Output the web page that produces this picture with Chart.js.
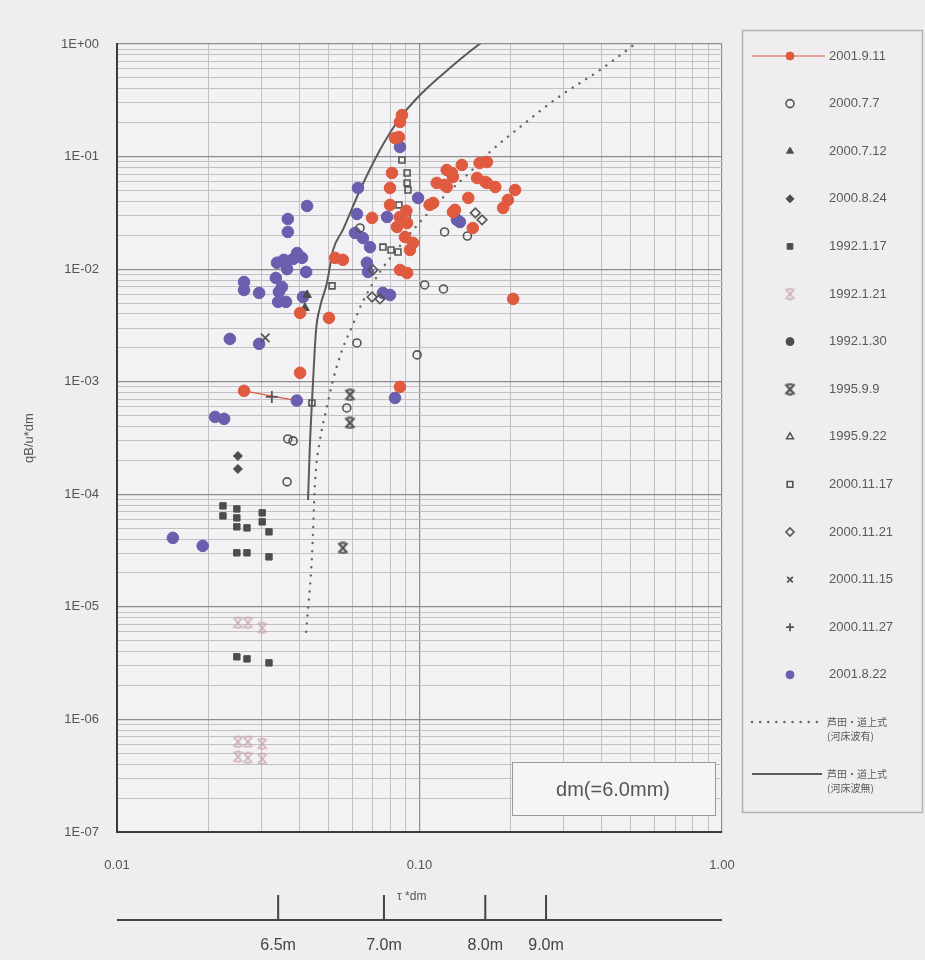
<!DOCTYPE html>
<html>
<head>
<meta charset="utf-8">
<script src="https://cdn.jsdelivr.net/npm/chart.js@4.4.1/dist/chart.umd.min.js"></script>
<style>
  html, body { margin: 0; padding: 0; background: #efedef; }
  #c { display: block; }
</style>
</head>
<body>
<canvas id="c" width="925" height="960"></canvas>
<script>
// Values: [τ*dm, qB/u*dm]
const s2001_9_11 = [[0.0875,0.234],[0.0862,0.203],[0.0830,0.146],[0.0855,0.149],[0.0811,0.0715],[0.0799,0.0526],
  [0.123,0.076],[0.129,0.0659],[0.114,0.0583],[0.123,0.0537],[0.0799,0.0372],[0.108,0.0372],[0.129,0.0322],
  [0.0697,0.0285],[0.0843,0.0237],[0.0910,0.0257],[0.0895,0.0193],[0.0952,0.0171],[0.0930,0.0148],[0.0862,0.00984],
  [0.0910,0.00925],[0.0526,0.0126],[0.0558,0.0121],[0.0403,0.00408],[0.0502,0.00369],[0.0403,0.00120],[0.0263,0.00083],
  [0.0862,0.00090],[0.138,0.0842],[0.128,0.0715],[0.158,0.0877],[0.167,0.0895],[0.155,0.0646],[0.167,0.0583],
  [0.178,0.0537],[0.121,0.0560],[0.145,0.0429],[0.111,0.0387],[0.131,0.0336],[0.189,0.0350],[0.196,0.0412],
  [0.207,0.0505],[0.204,0.00544],[0.150,0.0232],[0.165,0.0595],[0.0905,0.0330],[0.0860,0.0290]];
const s2000_7_7 = [[0.121,0.0214],[0.144,0.0197],[0.104,0.00724],[0.120,0.00667],[0.0982,0.00173],[0.0621,0.00221],
  [0.0367,0.00031],[0.0382,0.000298],[0.0365,0.000129],[0.0575,0.000585],[0.0636,0.0232]];
const s2000_7_12 = [[0.0425,0.0059],[0.0418,0.00452]];
const s2000_8_24 = [[0.0251,0.000219],[0.0251,0.000168]];
const s1992_1_17 = [[0.0224,7.89e-5],[0.0224,6.43e-5],[0.0249,7.41e-5],[0.0249,6.17e-5],[0.0249,5.14e-5],[0.0269,5.03e-5],
  [0.0302,6.84e-5],[0.0302,5.69e-5],[0.0318,4.64e-5],[0.0249,3.02e-5],[0.0269,3.02e-5],[0.0318,2.78e-5],
  [0.0249,3.6e-6],[0.0269,3.45e-6],[0.0318,3.18e-6]];
const s1992_1_21 = [[0.0251,7.21e-6],[0.0271,7.21e-6],[0.0302,6.51e-6],[0.0251,6.33e-7],[0.0271,6.33e-7],[0.0302,6.07e-7],
  [0.0251,4.66e-7],[0.0271,4.56e-7],[0.0302,4.47e-7]];
const s1992_1_30 = [];
const s1995_9_9 = [[0.0589,7.64e-4],[0.0589,4.31e-4],[0.0558,3.34e-5]];
const s1995_9_22 = [];
const s2000_11_17 = [[0.0910,0.0715],[0.0910,0.0583],[0.0916,0.0505],[0.0855,0.0372],[0.0910,0.0297],[0.0757,0.0157],
  [0.0849,0.0142],[0.0805,0.0148],[0.0514,0.0071],[0.0441,0.000648],[0.0875,0.0933]];
const s2000_11_21 = [[0.153,0.0316],[0.161,0.0274],[0.0702,0.00984],[0.0697,0.00566],[0.0740,0.00544]];
const s2000_11_15 = [[0.0309,0.00245]];
const s2000_11_27 = [[0.0325,0.000733]];
const s2001_8_22 = [[0.0425,0.0364],[0.0367,0.0279],[0.0367,0.0214],[0.0394,0.0139],[0.0409,0.0126],[0.0382,0.0123],
  [0.0338,0.0114],[0.0356,0.0121],[0.0365,0.0100],[0.0422,0.00944],[0.0335,0.00835],[0.0351,0.00695],[0.0343,0.00628],
  [0.0263,0.00769],[0.0263,0.00653],[0.0295,0.00615],[0.0341,0.00512],[0.0362,0.00512],[0.0412,0.00566],[0.0236,0.0024],
  [0.0295,0.00217],[0.0393,0.00068],[0.0211,0.000487],[0.0226,0.000468],[0.0153,4.1e-5],[0.0192,3.48e-5],[0.0862,0.1217],
  [0.0626,0.0526],[0.0621,0.0309],[0.0989,0.0429],[0.0781,0.0291],[0.0612,0.021],[0.065,0.0189],[0.0686,0.0157],
  [0.067,0.0114],[0.0676,0.00944],[0.0757,0.00615],[0.0799,0.0059],[0.083,0.000718],[0.133,0.0274],[0.136,0.0262]];
// short red connecting line near 8E-4
const s2001_9_11_line = [[0.0263,0.00083],[0.0393,0.00068]];
// 芦田・道上式 curves
const curveWithWaves = [[0.0422,6.0e-6],[0.0441,2.78e-5],[0.0452,1.34e-4],[0.0469,3.04e-4],[0.0494,5.97e-4],[0.0518,1.04e-3],
  [0.0555,1.92e-3],[0.0598,3.07e-3],[0.0646,5.0e-3],[0.074,9.44e-3],[0.0862,0.0161],[0.1004,0.0262],[0.121,0.0447],
  [0.147,0.073],[0.171,0.11],[0.215,0.183],[0.285,0.331],[0.395,0.588],[0.536,1.08]];
const curveNoWaves = [[0.0428,8.9e-5],[0.0434,2.64e-4],[0.0445,1.04e-3],[0.0455,2.88e-3],[0.0469,4.6e-3],[0.0494,7.5e-3],
  [0.0518,0.0148],[0.0558,0.0223],[0.0636,0.0505],[0.074,0.1145],[0.0862,0.220],[0.1028,0.375],[0.126,0.612],
  [0.158,1.0],[0.185,1.33]];

const yMajorLabels = ['1E-07','1E-06','1E-05','1E-04','1E-03','1E-02','1E-01','1E+00'];
const xMajorLabels = ['0.01','0.10','1.00'];
const depthTicks = [0.0341, 0.0763, 0.165, 0.262];
const depthLabels = ['6.5m','7.0m','8.0m','9.0m'];
const curveLabels = [['芦田・道上式','(河床波有)'], ['芦田・道上式','(河床波無)']];

const FONT = "'Liberation Sans', 'DejaVu Sans', Arial, sans-serif";
const RED = '#e05a40', PURPLE = '#6a5fae', DARK = '#4d4d4d';

function pts(a) { return a.map(([x, y]) => ({ x, y })); }
function isMajor(v) { const l = Math.log10(v); return Math.abs(l - Math.round(l)) < 1e-6; }
function logTicks(e0, e1) {
  const out = [];
  for (let e = e0; e < e1; e++)
    for (let m = 1; m < 10; m++) out.push(Number((m * Math.pow(10, e)).toPrecision(6)));
  out.push(Math.pow(10, e1));
  return out;
}

// X with short bars at top and bottom
function barredX(color, lw) {
  const c = document.createElement('canvas');
  c.width = 13; c.height = 13;
  const g = c.getContext('2d');
  g.strokeStyle = color; g.lineWidth = lw;
  g.beginPath();
  g.moveTo(2, 1.5); g.lineTo(11, 11.5);
  g.moveTo(11, 1.5); g.lineTo(2, 11.5);
  g.moveTo(4, 1.5); g.lineTo(9, 1.5);
  g.moveTo(4, 11.5); g.lineTo(9, 11.5);
  g.stroke();
  return c;
}

function scatter(label, data, style, fill, stroke, radius, bw) {
  return { label, data: pts(data), pointStyle: style, backgroundColor: fill, borderColor: stroke,
    pointRadius: radius, pointBorderWidth: bw, borderWidth: bw, showLine: false };
}

const NONE = 'rgba(0,0,0,0)';
const datasets = [
  scatter('2001.9.11', s2001_9_11, 'circle', RED, RED, 5.8, 1),
  scatter('2000.7.7', s2000_7_7, 'circle', NONE, '#555', 4, 1.6),
  scatter('2000.7.12', s2000_7_12, 'triangle', DARK, DARK, 5, 1),
  scatter('2000.8.24', s2000_8_24, 'rectRot', DARK, DARK, 4.5, 1),
  scatter('1992.1.17', s1992_1_17, 'rect', DARK, DARK, 4.5, 1),
  scatter('1992.1.21', s1992_1_21, barredX('#c8a2b2', 1.3), NONE, '#c8a2b2', 5, 1),
  scatter('1992.1.30', s1992_1_30, 'circle', DARK, DARK, 4.5, 1),
  scatter('1995.9.9', s1995_9_9, barredX('#505050', 2.2), NONE, '#555', 5, 1),
  scatter('1995.9.22', s1995_9_22, 'triangle', NONE, '#555', 4.5, 1.5),
  scatter('2000.11.17', s2000_11_17, 'rect', NONE, '#555', 4.2, 1.6),
  scatter('2000.11.21', s2000_11_21, 'rectRot', NONE, '#555', 4.8, 1.6),
  scatter('2000.11.15', s2000_11_15, 'crossRot', NONE, '#555', 6, 1.8),
  scatter('2000.11.27', s2000_11_27, 'cross', NONE, '#555', 6, 1.8),
  scatter('2001.8.22', s2001_8_22, 'circle', PURPLE, PURPLE, 5.8, 1),
  { label: 'line', data: pts(s2001_9_11_line), showLine: true, borderColor: RED, borderWidth: 1.2, pointRadius: 0 },
  { label: 'with waves', data: pts(curveWithWaves), showLine: true, borderColor: '#666', borderWidth: 2.4,
    borderDash: [0.1, 8], borderCapStyle: 'round', pointRadius: 0, cubicInterpolationMode: 'monotone' },
  { label: 'no waves', data: pts(curveNoWaves), showLine: true, borderColor: '#5a5a5a', borderWidth: 2,
    pointRadius: 0, cubicInterpolationMode: 'monotone' }
];

const gridColor = c => (c.tick && isMajor(c.tick.value)) ? '#8e8c8e' : '#c2c0c2';
const gridWidth = c => (c.tick && isMajor(c.tick.value)) ? 1.2 : 1;

// background, depth axis, text box and legend
const overlay = {
  id: 'overlay',
  beforeDraw(chart) {
    const { ctx, width, height, chartArea: a } = chart;
    ctx.save();
    ctx.fillStyle = '#efedef';
    ctx.fillRect(0, 0, width, height);
    ctx.fillStyle = '#f2f1f3';
    ctx.fillRect(a.left, a.top, a.right - a.left, a.bottom - a.top);
    ctx.restore();
  },
  afterDraw(chart) {
    const { ctx, chartArea: a } = chart;
    const x = chart.scales.x;
    ctx.save();

    // depth axis under the chart
    const axisY = 920;
    ctx.strokeStyle = '#444';
    ctx.lineWidth = 2;
    ctx.beginPath();
    ctx.moveTo(a.left, axisY); ctx.lineTo(a.right, axisY);
    depthTicks.forEach(v => {
      const px = x.getPixelForValue(v);
      ctx.moveTo(px, axisY); ctx.lineTo(px, axisY - 25);
    });
    ctx.stroke();
    ctx.fillStyle = '#444';
    ctx.font = '16px ' + FONT;
    ctx.textAlign = 'center';
    ctx.textBaseline = 'middle';
    depthTicks.forEach((v, i) => ctx.fillText(depthLabels[i], x.getPixelForValue(v), axisY + 26));
    ctx.font = '12px ' + FONT;
    ctx.textAlign = 'left';
    ctx.fillStyle = '#555';
    ctx.fillText('τ *dm', x.getPixelForValue(depthTicks[1]) + 13, 897);

    // dm box
    const bx = a.right - 210, by = a.bottom - 70;
    ctx.fillStyle = '#f5f4f6';
    ctx.fillRect(bx, by, 203, 53);
    ctx.strokeStyle = '#9a9a9a';
    ctx.lineWidth = 1;
    ctx.strokeRect(bx + 0.5, by + 0.5, 203, 53);
    ctx.fillStyle = '#555';
    ctx.font = '20px ' + FONT;
    ctx.textAlign = 'center';
    ctx.fillText('dm(=6.0mm)', bx + 101, by + 28);

    // legend box
    ctx.strokeStyle = '#b4b2b4';
    ctx.lineWidth = 1.5;
    ctx.strokeRect(742.5, 30.5, 180, 782);
    const mx = 790, tx = 829;
    ctx.textAlign = 'left';
    for (let i = 0; i < 14; i++) {
      const ds = chart.data.datasets[i];
      const y = 56 + i * 47.6;
      if (i === 0) {
        ctx.strokeStyle = RED; ctx.lineWidth = 1.2;
        ctx.beginPath(); ctx.moveTo(752, y); ctx.lineTo(825, y); ctx.stroke();
      }
      ctx.fillStyle = ds.backgroundColor;
      ctx.strokeStyle = ds.borderColor;
      ctx.lineWidth = ds.pointBorderWidth;
      Chart.helpers.drawPoint(ctx, { pointStyle: ds.pointStyle, radius: Math.min(ds.pointRadius, 4),
        rotation: 0, borderWidth: ds.pointBorderWidth }, mx, y);
      ctx.fillStyle = '#5a5a5a';
      ctx.font = '13px ' + FONT;
      ctx.fillText(ds.label, tx, y);
    }
    [15, 16].forEach((di, k) => {
      const ds = chart.data.datasets[di];
      const y = 727 + k * 52;
      ctx.strokeStyle = ds.borderColor;
      ctx.lineWidth = ds.borderWidth;
      ctx.lineCap = ds.borderCapStyle || 'butt';
      ctx.setLineDash(ds.borderDash || []);
      ctx.beginPath(); ctx.moveTo(752, y - 5); ctx.lineTo(822, y - 5); ctx.stroke();
      ctx.setLineDash([]);
      ctx.lineCap = 'butt';
      ctx.fillStyle = '#5a5a5a';
      ctx.font = "10px 'Noto Sans CJK JP', " + FONT;
      ctx.fillText(curveLabels[k][0], tx - 2, y - 5);
      ctx.fillText(curveLabels[k][1], tx - 2, y + 9);
    });
    ctx.restore();
  }
};

new Chart(document.getElementById('c'), {
  type: 'scatter',
  data: { datasets },
  options: {
    responsive: false,
    animation: false,
    layout: { padding: { top: 44, right: 203, left: 0, bottom: 0 } },
    plugins: { legend: { display: false }, tooltip: { enabled: false } },
    scales: {
      x: {
        type: 'logarithmic', min: 0.01, max: 1,
        afterBuildTicks: s => { s.ticks = logTicks(-2, 0).map(v => ({ value: v })); },
        afterFit: s => { s.height = 128; },
        ticks: {
          autoSkip: false, maxRotation: 0, padding: 26, color: '#555',
          font: { family: FONT, size: 13 },
          callback: v => isMajor(v) ? xMajorLabels[Math.round(Math.log10(v)) + 2] : ''
        },
        grid: { drawTicks: false, color: gridColor, lineWidth: gridWidth },
        border: { color: '#3c3c3c', width: 2 }
      },
      y: {
        type: 'logarithmic', min: 1e-7, max: 1,
        afterBuildTicks: s => { s.ticks = logTicks(-7, 0).map(v => ({ value: v })); },
        afterFit: s => { s.width = 117; },
        ticks: {
          autoSkip: false, padding: 18, color: '#555',
          font: { family: FONT, size: 13 },
          callback: v => isMajor(v) ? yMajorLabels[Math.round(Math.log10(v)) + 7] : ''
        },
        grid: { drawTicks: false, color: gridColor, lineWidth: gridWidth },
        border: { color: '#3c3c3c', width: 2 },
        title: { display: true, text: 'qB/u*dm', color: '#555', font: { family: FONT, size: 13 }, padding: { top: 22 } }
      }
    }
  },
  plugins: [overlay]
});
</script>
</body>
</html>
